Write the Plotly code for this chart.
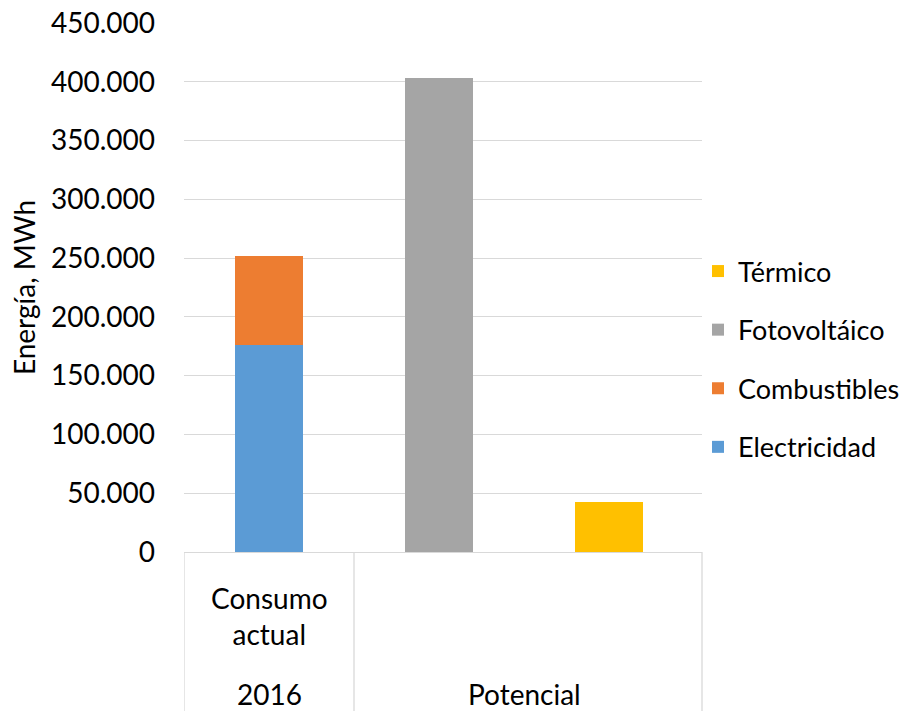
import plotly.graph_objects as go

# Category slots along the x axis (one bar column each)
slots = ["Consumo actual", "Fotovoltaico", "Térmico"]

# Series values (MWh)
electricidad = [176000, None, None]
combustibles = [75700, None, None]
fotovoltaico = [None, 402800, None]
termico = [None, None, 42900]

# name, values, colour, legend rank (legend lists Térmico first)
series = [
    ("Electricidad", electricidad, "#5B9BD5", 4),
    ("Combustibles", combustibles, "#ED7D31", 3),
    ("Fotovoltáico", fotovoltaico, "#A5A5A5", 2),
    ("Térmico", termico, "#FFC000", 1),
]

# Two-level category labels drawn under the axis
level1_labels = [("Consumo<br>actual", 0)]
level2_labels = [("2016", 0), ("Potencial", 1.5)]
inner_dividers = [-0.5, 0.5]

y_ticks = list(range(0, 450001, 50000))

FONT = "Lato"
GRID = "#d9d9d9"

fig = go.Figure()
for name, vals, color, rank in series:
    fig.add_trace(go.Bar(
        x=slots, y=vals, name=name, legendgroup=name, legendrank=rank,
        marker=dict(color=color, line=dict(width=0)),
    ))

plot_top, plot_bottom = 23, 552
plot_h = plot_bottom - plot_top


def py(px):
    return (plot_bottom - px) / plot_h


fig.update_layout(
    width=901, height=711,
    margin=dict(l=184, r=199, t=plot_top, b=711 - plot_bottom, autoexpand=False),
    barmode="stack", bargap=0.6,
    plot_bgcolor="white", paper_bgcolor="white",
    separators=",.",
    font=dict(family=FONT, color="#000000", size=28),
    showlegend=True,
    legend=dict(
        x=0.9923, xanchor="left", y=py(359), yanchor="middle",
        traceorder="grouped", tracegroupgap=20.5,
        font=dict(family=FONT, size=27, color="#000000"),
        bgcolor="rgba(0,0,0,0)", itemclick=False,
    ),
    xaxis=dict(
        type="category", categoryorder="array", categoryarray=slots,
        range=[-0.5, 2.547], showticklabels=False, ticks="",
        showgrid=False, zeroline=False, automargin=False,
        showline=True, linecolor=GRID, linewidth=1.3,
    ),
    yaxis=dict(
        range=[0, 450000], tickvals=y_ticks, tickformat=",d",
        ticks="", ticklabelstandoff=28, automargin=False,
        showgrid=True, gridcolor=GRID, gridwidth=1.3,
        zeroline=False, showline=False,
        tickfont=dict(family=FONT, size=28, color="#000000"),
        title=dict(text="Energía, MWh", standoff=7,
                   font=dict(family=FONT, size=28, color="#000000")),
    ),
)

# Vertical separators of the two-level category axis
for xv in inner_dividers:
    fig.add_shape(type="line", xref="x", yref="paper",
                  x0=xv, x1=xv, y0=0, y1=py(711),
                  line=dict(color=GRID, width=1.3))
fig.add_shape(type="line", xref="paper", yref="paper",
              x0=1, x1=1, y0=0, y1=py(711),
              line=dict(color=GRID, width=1.3))

for text, xv in level1_labels:
    fig.add_annotation(text=text, xref="x", yref="paper", x=xv, y=py(616),
                       xanchor="center", yanchor="middle", showarrow=False,
                       font=dict(family=FONT, size=28, color="#000000"))
for text, xv in level2_labels:
    fig.add_annotation(text=text, xref="x", yref="paper", x=xv, y=py(694),
                       xanchor="center", yanchor="middle", showarrow=False,
                       font=dict(family=FONT, size=28, color="#000000"))

fig.write_html("out.html")
